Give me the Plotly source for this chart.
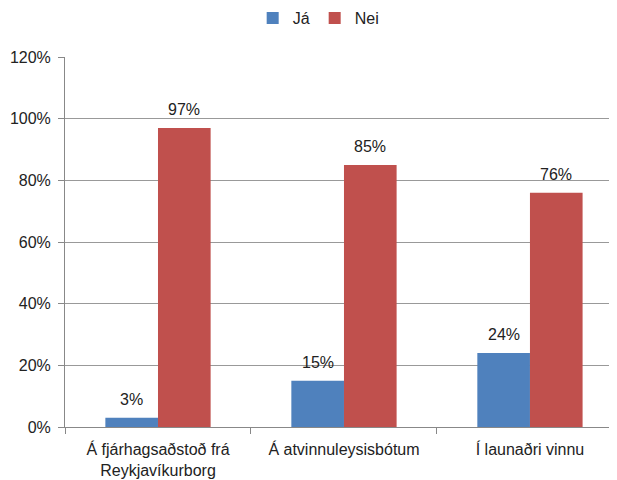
import plotly.graph_objects as go

categories = ["Á fjárhagsaðstoð frá<br>Reykjavíkurborg", "Á atvinnuleysisbótum", "Í launaðri vinnu"]
ja = [0.03, 0.15, 0.24]
nei = [0.97, 0.85, 0.76]
tick_vals = [0, 0.2, 0.4, 0.6, 0.8, 1.0, 1.2]
tick_text = ["0%", "20%", "40%", "60%", "80%", "100%", "120%"]

FONT = "Liberation Sans"
FS = 16
TXT = "#222"
fig = go.Figure()
fig.add_trace(go.Bar(name="Já", x=categories, y=ja, marker=dict(color="#4F81BD", line=dict(width=0))))
fig.add_trace(go.Bar(name="Nei", x=categories, y=nei, marker=dict(color="#C0504D", line=dict(width=0))))

# data labels above each bar
half_bar_px = 26.3
for series, shift in ((ja, -half_bar_px), (nei, half_bar_px)):
    for c, v in zip(categories, series):
        fig.add_annotation(x=c, y=v, text=f"{v:.0%}", showarrow=False, xshift=shift, yshift=8,
                           yanchor="bottom", font=dict(family=FONT, size=FS, color=TXT))

fig.update_layout(
    width=617, height=480,
    margin=dict(l=57, r=8, t=49, b=61, pad=0, autoexpand=False),
    paper_bgcolor="white", plot_bgcolor="white",
    barmode="group", bargap=0.434, bargroupgap=0,
    font=dict(family=FONT, size=FS, color=TXT),
    legend=dict(orientation="h", x=0.34, xanchor="left", yref="container", y=0.979, yanchor="middle",
                font=dict(family=FONT, size=FS, color=TXT), traceorder="normal"),
    showlegend=True,
)
fig.update_xaxes(range=[-0.5, 2.468], showline=True, linecolor="#888", linewidth=1,
                 ticks="outside", tickson="boundaries", ticklen=6, tickcolor="#888",
                 ticklabelstandoff=8,
                 showgrid=False, tickfont=dict(family=FONT, size=FS, color=TXT))
fig.update_yaxes(range=[0, 1.2], tickvals=tick_vals, ticktext=tick_text, showline=True,
                 linecolor="#888", linewidth=1, ticks="outside", ticklen=6, tickcolor="#888",
                 ticklabelstandoff=4,
                 showgrid=True, gridcolor="#999", gridwidth=1, zeroline=False,
                 tickfont=dict(family=FONT, size=FS, color=TXT))

fig.write_html("out.html")
